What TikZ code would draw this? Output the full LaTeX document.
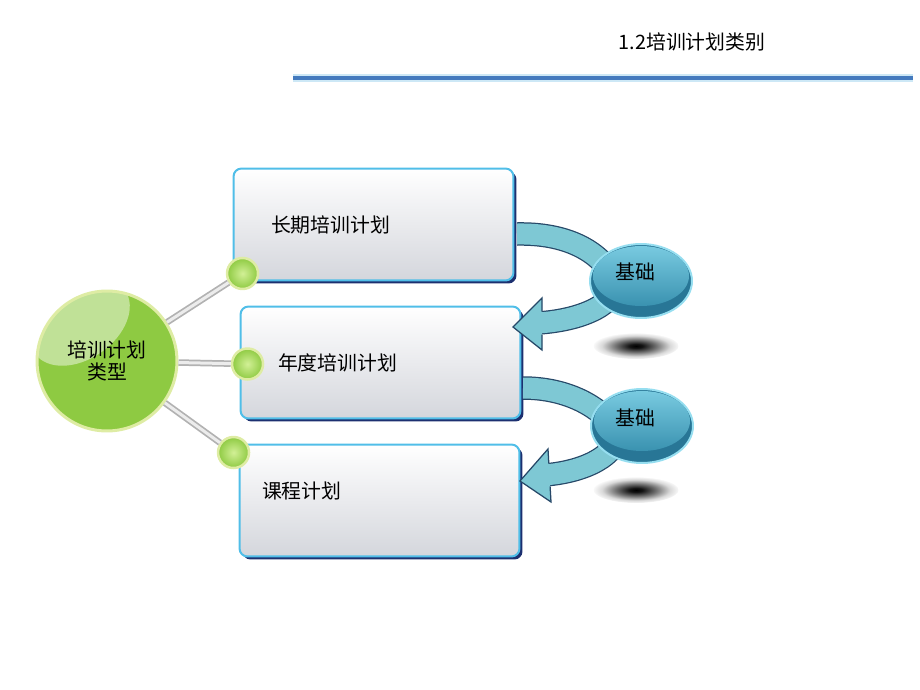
\documentclass[tikz,border=0pt]{standalone}
\usepackage{fontspec}
\newfontfamily\cjk{Noto Sans CJK SC}
\usepackage{tikz}
\usetikzlibrary{arrows,shapes,positioning,calc,shadows}

\definecolor{titleBlue}{RGB}{68,122,190}
\definecolor{titleGlow}{RGB}{205,232,246}
\definecolor{boxNavy}{RGB}{28,48,112}
\definecolor{boxCyan}{RGB}{80,190,232}
\definecolor{boxGrey}{RGB}{212,214,220}
\definecolor{ballGreen}{RGB}{142,202,66}
\definecolor{ballLight}{RGB}{210,240,150}
\definecolor{ballRim}{RGB}{222,236,164}
\definecolor{armFill}{RGB}{126,200,212}
\definecolor{armLine}{RGB}{38,72,104}
\definecolor{baseTop}{RGB}{120,202,224}
\definecolor{baseBottom}{RGB}{58,146,176}
\definecolor{baseDark}{RGB}{40,118,150}
\definecolor{baseRim}{RGB}{150,222,240}

\pgfdeclareradialshading{floorShadow}{\pgfpoint{0cm}{0cm}}{color(0bp)=(black); color(4bp)=(black!92); color(12bp)=(black!55); color(20bp)=(black!15); color(26bp)=(white); color(50bp)=(white)}

\newcommand{\cnfont}{\cjk\fontsize{11.3pt}{12.5pt}\selectfont}

\begin{document}
\begin{tikzpicture}[x=0.02cm,y=-0.02cm,semithick]

\tikzset{
	planBox/.style={
		rectangle,
		rounded corners=0.16cm,
		minimum width=5.6cm,
		minimum height=2.24cm,
		draw=boxCyan,
		line width=0.4mm,
		top color=white,
		bottom color=boxGrey,
		drop shadow={shadow xshift=0.06cm, shadow yshift=-0.06cm, fill=boxNavy, opacity=1}
	}
}

\tikzset{
	planText/.style={
		inner sep=0pt,
		anchor=west,
		font=\cnfont
	}
}

\tikzset{
	typeBall/.style={
		circle,
		minimum size=2.8cm,
		inner sep=0pt,
		fill=ballGreen,
		draw=ballRim,
		line width=0.6mm,
		align=center,
		font=\cnfont,
		path picture={
			\fill[white, opacity=0.45] ($(path picture bounding box.center)+(-27,-39)$) ellipse [x radius=1.1cm, y radius=0.74cm, rotate=35];
		}
	}
}

\tikzset{
	greenDot/.style={
		circle,
		minimum size=0.62cm,
		inner sep=0pt,
		draw=ballRim,
		line width=0.5mm,
		inner color=ballLight,
		outer color=ballGreen
	}
}

\tikzset{
	spoke/.style={
		draw=gray!60,
		line width=0.35mm,
		double=gray!15,
		double distance=0.06cm
	}
}

\tikzset{
	bendBand/.style={
		draw=armLine,
		line width=0.25mm,
		double=armFill,
		double distance=0.42cm
	}
}

\tikzset{
	baseEllipse/.style={
		ellipse,
		minimum width=2.04cm,
		minimum height=1.48cm,
		fill=baseDark,
		draw=baseRim,
		line width=0.4mm
	}
}

\useasboundingbox (0,0) rectangle (920,690);

\node[font=\cnfont] (Title) at (692,42) {1.2培训计划类别};
\coordinate (RuleStart) at (293,78);
\coordinate (RuleEnd) at (913,78);
\draw[titleGlow, line width=4.5pt] (RuleStart) -- (RuleEnd);
\draw[titleBlue, line width=2pt] (RuleStart) -- (RuleEnd);

\node[planBox] (LongTerm) at (373.5,224.5) {};
\node[planBox] (YearPlan) at (380.5,362.5) {};
\node[planBox] (CoursePlan) at (379.5,500.5) {};

\node[planText, right=0.76cm of LongTerm.west] (LongTermText) {长期培训计划};
\node[planText, right=0.76cm of YearPlan.west] (YearPlanText) {年度培训计划};
\node[planText, right=0.46cm of CoursePlan.west, yshift=0.19cm] (CoursePlanText) {课程计划};

\node[typeBall] (TypeBall) at (107,361) {培训计划\\类型};

\node[greenDot] (DotLong) at ($(LongTerm.south west)+(10,-8)$) {};
\node[greenDot] (DotYear) at ($(YearPlan.west)+(8,1.5)$) {};
\node[greenDot] (DotCourse) at ($(CoursePlan.north west)+(-5,9)$) {};

\draw[spoke] (TypeBall) -- (DotLong);
\draw[spoke] (TypeBall) -- (DotYear);
\draw[spoke] (TypeBall) -- (DotCourse);

\coordinate (BandAStart) at (517,234);
\coordinate (BandAHide) at (615,280);
\coordinate (BandAEnd) at (538,323);
\coordinate (HeadATop) at (542,298);
\coordinate (HeadATip) at (513,327);
\coordinate (HeadABot) at (542,350);
\coordinate (NeckATop) at (542,311.5);
\coordinate (NeckABot) at (542,334.5);

\coordinate (BandBStart) at (523,388);
\coordinate (BandBHide) at (618,432);
\coordinate (BandBEnd) at (544,475);
\coordinate (HeadBTop) at (548,449);
\coordinate (HeadBTip) at (520,481);
\coordinate (HeadBBot) at (551,502);
\coordinate (NeckBTop) at (548.8,463.5);
\coordinate (NeckBBot) at (550.1,486.5);

\path[bendBand] (BandAStart) .. controls (565,233) and (600,250) .. (BandAHide) .. controls (620,302) and (585,320) .. (BandAEnd);
\fill[armFill] (HeadATop) -- (HeadATip) -- (HeadABot) -- cycle;
\draw[armLine, line width=0.25mm] (NeckATop) -- (HeadATop) -- (HeadATip) -- (HeadABot) -- (NeckABot);

\path[bendBand] (BandBStart) .. controls (565,388) and (600,405) .. (BandBHide) .. controls (618,455) and (585,472) .. (BandBEnd);
\fill[armFill] (HeadBTop) -- (HeadBTip) -- (HeadBBot) -- cycle;
\draw[armLine, line width=0.25mm] (NeckBTop) -- (HeadBTop) -- (HeadBTip) -- (HeadBBot) -- (NeckBBot);

\node[baseEllipse] (BaseA) at (641,281) {};
\node[baseEllipse] (BaseB) at (642,426) {};
\shade[top color=baseTop, bottom color=baseBottom] ($(BaseA)+(0,-5)$) ellipse [x radius=0.96cm, y radius=0.6cm];
\shade[top color=baseTop, bottom color=baseBottom] ($(BaseB)+(0,-5)$) ellipse [x radius=0.96cm, y radius=0.6cm];
\node[font=\cnfont] (BaseAText) at ($(BaseA)+(-6,-9)$) {基础};
\node[font=\cnfont] (BaseBText) at ($(BaseB)+(-7,-8)$) {基础};

\shade[shading=floorShadow] (636,346) ellipse [x radius=0.85cm, y radius=0.26cm];
\shade[shading=floorShadow] (636,490) ellipse [x radius=0.85cm, y radius=0.26cm];

\end{tikzpicture}
\end{document}
